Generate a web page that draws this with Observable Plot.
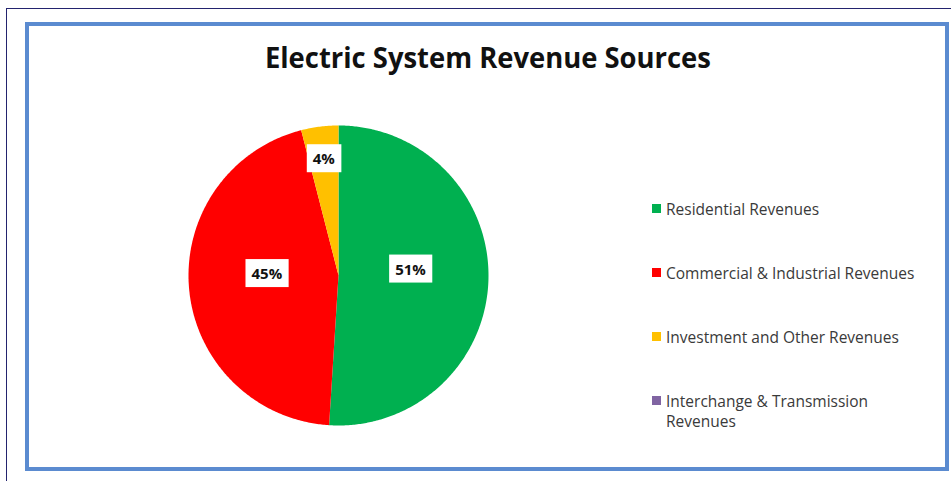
<!DOCTYPE html>
<html>
<head>
<meta charset="utf-8">
<script src="https://cdn.jsdelivr.net/npm/d3@7"></script>
<script src="https://cdn.jsdelivr.net/npm/@observablehq/plot@0.6"></script>
<style>
  html, body { margin: 0; padding: 0; background: #fff; }
  body { width: 951px; height: 481px; position: relative; overflow: hidden; font-family: "Open Sans", sans-serif; }
  #outer { position: absolute; left: 6px; top: 8px; width: 1000px; height: 600px; border-left: 1.5px solid #23236e; border-top: 1.5px solid #23236e; box-sizing: border-box; }
  #frame { position: absolute; left: 25px; top: 22px; width: 924px; height: 449px; border: 4px solid #5b8bd0; box-sizing: border-box; }
  #title { position: absolute; left: 0; width: 976px; top: 43px; text-align: center; font-size: 28px; line-height: 28px; font-weight: 700; color: #111; white-space: nowrap; }
  #title span { display: inline-block; transform-origin: 50% 50%; }
  #pie { position: absolute; left: 178px; top: 115px; }
  .leg { position: absolute; left: 666px; font-size: 15.5px; line-height: 20px; color: #3a3a3a; white-space: nowrap; }
  .sw { position: absolute; left: 652px; width: 9px; height: 9px; }
</style>
</head>
<body>
<div id="outer"></div>
<div id="frame"></div>
<div id="title"><span>Electric System Revenue Sources</span></div>
<div id="pie"></div>
<div id="legend"></div>
<script>
// ---- data ----
const categories = ["Residential Revenues", "Commercial & Industrial Revenues", "Investment and Other Revenues", "Interchange & Transmission Revenues"];
const legendLines = [["Residential Revenues"], ["Commercial & Industrial Revenues"], ["Investment and Other Revenues"], ["Interchange & Transmission", "Revenues"]];
const shares = [51, 45, 4, 0];
const pctLabels = ["51%", "45%", "4%", ""];
const colors = ["#00b050", "#ff0000", "#ffc000", "#8064a2"];

// ---- title width fit ----
(function () {
  const span = document.querySelector("#title span");
  const c = document.createElement("canvas").getContext("2d");
  c.font = "700 28px 'Open Sans'";
  const w = c.measureText(span.textContent).width;
  span.style.transform = `scaleX(${446 / w})`;
})();

// ---- pie geometry from data ----
const rows = categories.map((name, i) => ({name, value: shares[i], label: pctLabels[i]}));
const arcs = d3.pie().sort(null).value(d => d.value)(rows);
const points = [];
for (const a of arcs) {
  points.push({name: a.data.name, x: 0, y: 0});
  const n = Math.max(2, Math.ceil((a.endAngle - a.startAngle) / 0.01));
  for (let k = 0; k <= n; k++) {
    const t = a.startAngle + (a.endAngle - a.startAngle) * k / n;
    points.push({name: a.data.name, x: Math.sin(t), y: Math.cos(t)});
  }
}
const labels = arcs.filter(a => a.data.label).map(a => {
  const mid = (a.startAngle + a.endAngle) / 2;
  const small = (a.endAngle - a.startAngle) < 0.6;
  const r = small ? 0.78 : 0.48;
  return {x: r * Math.sin(mid), y: r * Math.cos(mid), text: a.data.label, small};
});

const chart = Plot.plot({
  width: 320,
  height: 320,
  margin: 10,
  x: {domain: [-1, 1], axis: null},
  y: {domain: [-1, 1], axis: null},
  color: {domain: categories, range: colors},
  marks: [
    Plot.line(points, {x: "x", y: "y", z: "name", fill: "name", stroke: "none", curve: "linear-closed"}),
    Plot.text(labels.filter(d => !d.small), {x: "x", y: "y", text: "text", dy: -8, fontWeight: "bold", fontSize: 15, fill: "#111", fontFamily: "Open Sans"}),
    Plot.text(labels.filter(d => d.small), {x: "x", y: "y", text: "text", fontWeight: "bold", fontSize: 15, fill: "#111", fontFamily: "Open Sans"})
  ]
});
document.getElementById("pie").appendChild(chart);

// white boxes behind data labels
chart.querySelectorAll("g[aria-label='text'] text").forEach(t => {
  const b = t.getBBox();
  const rect = document.createElementNS("http://www.w3.org/2000/svg", "rect");
  rect.setAttribute("x", b.x - 6);
  rect.setAttribute("y", b.y - 4);
  rect.setAttribute("width", b.width + 12);
  rect.setAttribute("height", b.height + 8);
  rect.setAttribute("fill", "#fff");
  const tr = t.getAttribute("transform");
  if (tr) rect.setAttribute("transform", tr);
  t.parentNode.insertBefore(rect, t);
});

// ---- legend ----
const leg = document.getElementById("legend");
categories.forEach((name, i) => {
  const base = 214 + i * 64;
  const sw = document.createElement("div");
  sw.className = "sw";
  sw.style.top = (base - 10) + "px";
  sw.style.background = colors[i];
  leg.appendChild(sw);
  legendLines[i].forEach((line, j) => {
    const d = document.createElement("div");
    d.className = "leg";
    d.textContent = line;
    d.style.top = (base + j * 20 - 15) + "px";
    leg.appendChild(d);
  });
});
</script>
</body>
</html>
